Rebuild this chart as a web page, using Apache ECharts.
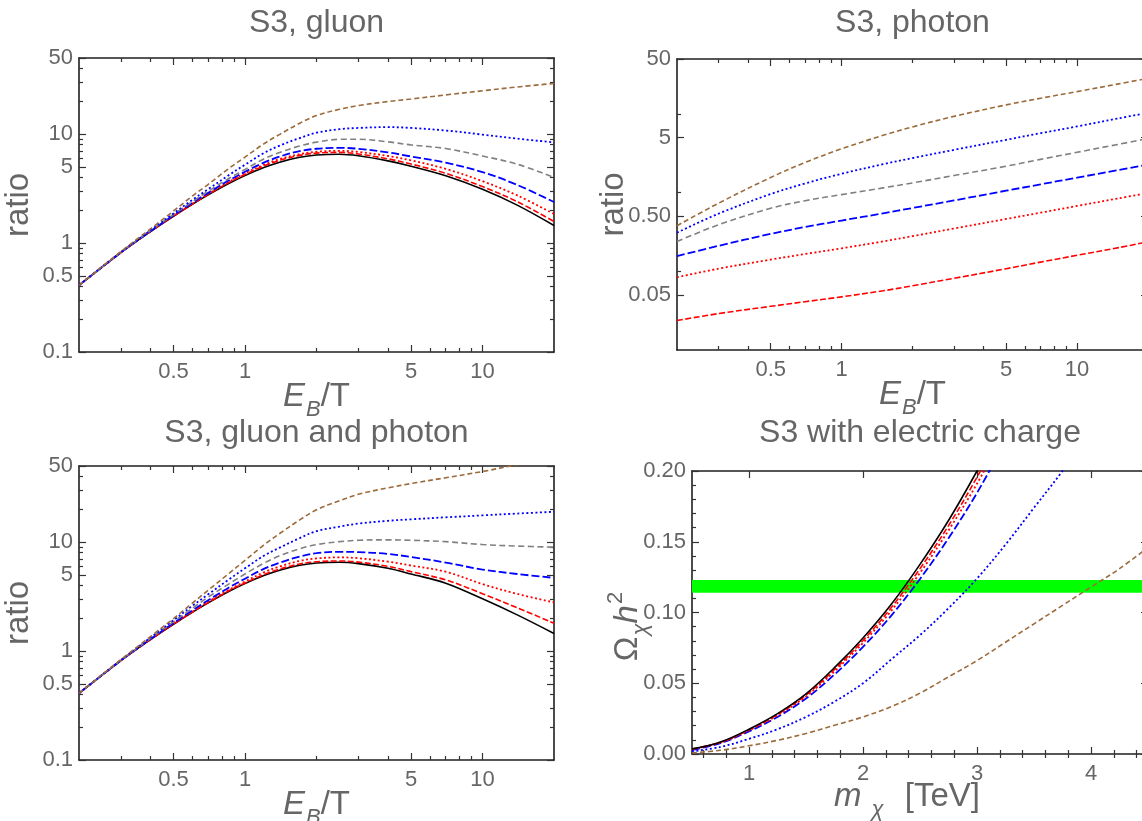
<!DOCTYPE html>
<html>
<head>
<meta charset="utf-8">
<title>S3 ratios and relic density</title>
<script src="https://cdn.jsdelivr.net/npm/echarts@6/dist/echarts.min.js"></script>
<style>
  html, body { margin: 0; padding: 0; background: #ffffff; }
  #chart { width: 1142px; height: 821px; }
</style>
</head>
<body>
<div id="chart"></div>
<script>
// ---------- data ----------
// E_B/T samples shared by the gluon and gluon+photon panels
const ebtGrid = [0.2, 0.3, 0.4, 0.5, 0.6, 0.7, 0.85, 1, 1.2, 1.4, 1.7, 2, 2.5, 3, 4, 5, 7, 10, 14, 20];

// S3, gluon
const gluonBlack    = [0.41, 0.817, 1.276, 1.763, 2.268, 2.771, 3.5, 4.16, 4.93, 5.53, 6.13, 6.44, 6.54, 6.33, 5.68, 5.08, 4.15, 3.12, 2.23, 1.45];
const gluonRedDash  = [0.41, 0.817, 1.277, 1.77, 2.28, 2.8, 3.57, 4.26, 5.1, 5.74, 6.38, 6.7, 6.8, 6.58, 5.93, 5.32, 4.37, 3.3, 2.4, 1.58];
const gluonRedDot   = [0.41, 0.817, 1.28, 1.78, 2.3, 2.83, 3.62, 4.37, 5.24, 5.9, 6.56, 6.89, 7.03, 6.86, 6.3, 5.74, 4.8, 3.7, 2.74, 1.85];
const gluonBlueDash = [0.41, 0.818, 1.285, 1.8, 2.34, 2.89, 3.73, 4.51, 5.47, 6.22, 6.99, 7.34, 7.49, 7.34, 6.8, 6.24, 5.47, 4.48, 3.42, 2.38];
const gluonGray     = [0.41, 0.82, 1.3, 1.83, 2.4, 2.99, 3.89, 4.74, 5.92, 6.8, 7.79, 8.44, 8.96, 8.97, 8.5, 7.96, 7.38, 6.3, 5.3, 4.0];
const gluonBlueDot  = [0.41, 0.825, 1.31, 1.87, 2.49, 3.13, 4.17, 5.24, 6.7, 7.85, 9.2, 10.3, 11.1, 11.4, 11.6, 11.4, 10.8, 9.9, 9.1, 8.4];
const gluonBrown    = [0.41, 0.835, 1.35, 1.97, 2.7, 3.46, 4.8, 6.15, 8.15, 9.95, 12.6, 14.8, 16.9, 18.3, 19.9, 21.0, 22.9, 25.0, 27.1, 29.2];

// S3, photon
const photonGrid     = [0.2, 0.3, 0.5, 0.7, 1, 1.5, 2, 3, 5, 7, 10, 15, 20];
const photonBrown    = [0.38, 0.733, 1.56, 2.42, 3.61, 5.35, 6.85, 9.32, 13.06, 15.87, 19.24, 24.15, 28.4];
const photonBlueDot  = [0.31, 0.54, 0.96, 1.31, 1.74, 2.3, 2.75, 3.5, 4.7, 5.7, 6.95, 8.8, 10.35];
const photonGray     = [0.24, 0.39, 0.634, 0.79, 0.945, 1.15, 1.33, 1.65, 2.17, 2.65, 3.26, 4.12, 4.87];
const photonBlueDash = [0.156, 0.211, 0.299, 0.366, 0.442, 0.546, 0.638, 0.797, 1.06, 1.276, 1.553, 1.94, 2.27];
const photonRedDot   = [0.084, 0.108, 0.141, 0.166, 0.196, 0.24, 0.28, 0.35, 0.463, 0.557, 0.678, 0.847, 0.99];
const photonRedDash  = [0.0237, 0.029, 0.0359, 0.0411, 0.0474, 0.0566, 0.0655, 0.0815, 0.108, 0.131, 0.16, 0.2, 0.237];

// S3, gluon and photon
const bothBlack    = [0.41, 0.817, 1.276, 1.763, 2.268, 2.771, 3.5, 4.16, 4.93, 5.53, 6.13, 6.44, 6.54, 6.35, 5.75, 5.1, 4.2, 3.02, 2.15, 1.45];
const bothRedDash  = [0.41, 0.817, 1.277, 1.77, 2.28, 2.79, 3.55, 4.22, 5.04, 5.67, 6.3, 6.6, 6.72, 6.56, 6.0, 5.36, 4.5, 3.36, 2.5, 1.8];
const bothRedDot   = [0.41, 0.817, 1.28, 1.78, 2.3, 2.84, 3.63, 4.35, 5.28, 5.98, 6.73, 7.08, 7.25, 7.12, 6.62, 6.1, 5.35, 4.12, 3.35, 2.8];
const bothBlueDash = [0.41, 0.818, 1.29, 1.81, 2.36, 2.93, 3.8, 4.62, 5.68, 6.48, 7.38, 7.94, 8.15, 8.1, 7.8, 7.3, 6.5, 5.6, 5.1, 4.7];
const bothGray     = [0.41, 0.82, 1.31, 1.86, 2.47, 3.13, 4.1, 5.1, 6.4, 7.5, 8.7, 9.5, 10.1, 10.4, 10.5, 10.4, 10.1, 9.5, 9.2, 9.0];
const bothBlueDot  = [0.41, 0.825, 1.33, 1.92, 2.6, 3.32, 4.5, 5.75, 7.5, 8.9, 10.9, 12.6, 13.9, 14.8, 15.7, 16.2, 16.9, 17.6, 18.3, 19.0];
const bothBrown    = [0.41, 0.835, 1.36, 1.99, 2.75, 3.62, 5.1, 6.8, 9.4, 12.0, 16.0, 19.8, 24.0, 27.5, 31.5, 34.5, 39.0, 44.5, 51.5, 60.0];

// S3 with electric charge: relic abundance vs mass (TeV)
const massGrid      = [0.5, 0.75, 1, 1.25, 1.5, 1.75, 2, 2.25, 2.5, 2.75, 3, 3.25, 3.5, 3.75, 4, 4.25, 4.5];
const omegaBlack    = [0.0036, 0.0085, 0.0175, 0.0285, 0.0425, 0.061, 0.082, 0.106, 0.134, 0.165, 0.200, 0.238];
const omegaRedDash  = [0.0035, 0.0083, 0.0171, 0.0279, 0.0416, 0.0597, 0.0802, 0.1037, 0.131, 0.1614, 0.1956, 0.233];
const omegaRedDot   = [0.0034, 0.0081, 0.0167, 0.0273, 0.0407, 0.0584, 0.0785, 0.1014, 0.128, 0.158, 0.191, 0.228];
const omegaBlueDash = [0.0029, 0.0077, 0.016, 0.0262, 0.0392, 0.0562, 0.0757, 0.098, 0.1237, 0.1525, 0.1845, 0.221];
const omegaBlueDot  = [0.0019, 0.005, 0.0107, 0.0175, 0.0262, 0.037, 0.05, 0.067, 0.084, 0.103, 0.124, 0.148, 0.174, 0.2, 0.228];
const omegaBrown    = [0.0008, 0.0026, 0.0058, 0.0097, 0.0145, 0.0203, 0.0262, 0.0335, 0.043, 0.0545, 0.066, 0.079, 0.092, 0.105, 0.118, 0.131, 0.146];
const relicBand     = [0.114, 0.123];

// tick values and labels
const ebtMajor        = [0.5, 1, 5, 10];
const ebtLabels       = ['0.5', '1', '5', '10'];
const ebtMinor        = [0.3, 0.4, 0.6, 0.7, 0.8, 0.9, 2, 3, 4, 6, 7, 8, 9];
const ratioMajor      = [0.1, 0.5, 1, 5, 10, 50];
const ratioLabels     = ['0.1', '0.5', '1', '5', '10', '50'];
const ratioMinor      = [0.2, 0.3, 0.4, 0.6, 0.7, 0.8, 0.9, 2, 3, 4, 6, 7, 8, 9, 20, 30, 40];
const photonMajor     = [0.05, 0.5, 5, 50];
const photonLabels    = ['0.05', '0.50', '5', '50'];
const photonMinor     = [0.1, 1, 10];
const massMajor       = [1, 2, 3, 4];
const massLabels      = ['1', '2', '3', '4'];
const massMinor       = [0.6, 0.8, 1.2, 1.4, 1.6, 1.8, 2.2, 2.4, 2.6, 2.8, 3.2, 3.4, 3.6, 3.8, 4.2, 4.4];
const omegaMajor      = [0, 0.05, 0.1, 0.15, 0.2];
const omegaLabels     = ['0.00', '0.05', '0.10', '0.15', '0.20'];
const omegaMinor      = [0.01, 0.02, 0.03, 0.04, 0.06, 0.07, 0.08, 0.09, 0.11, 0.12, 0.13, 0.14, 0.16, 0.17, 0.18, 0.19];

// ---------- styling ----------
const FONT = '"Liberation Sans", Arial, sans-serif';
const TEXT = '#666666';
const FRAME = '#1f1f1f';
const TICK = '#333333';

const lineStyles = {
  black:    { color: '#000000', type: 'solid',  width: 1.6 },
  redDash:  { color: '#ff0000', type: [6, 2.5], width: 1.6 },
  redDot:   { color: '#ff0000', type: [2, 2.5], width: 1.8 },
  blueDash: { color: '#0000ff', type: [8, 3],   width: 1.8 },
  gray:     { color: '#808080', type: [6, 3.5], width: 1.6 },
  blueDot:  { color: '#0000ff', type: [2, 2.5], width: 1.8 },
  brown:    { color: '#9c6b3c', type: [5, 3],   width: 1.6 }
};

const grids = [
  { left: 79,  top: 58,  width: 475, height: 294 },
  { left: 677, top: 59,  width: 471, height: 291 },
  { left: 79,  top: 466, width: 475, height: 294 },
  { left: 692, top: 471, width: 456, height: 283 }
].map(g => Object.assign({ outerBoundsMode: 'none', containLabel: false, show: false }, g));

const RICH = {
  it:   { fontStyle: 'italic', fontSize: 33, lineHeight: 33, verticalAlign: 'top', padding: [6, 0, 0, 0] },
  up:   { fontSize: 33, lineHeight: 33, verticalAlign: 'top', padding: [6, 0, 0, 0] },
  sub:  { fontStyle: 'italic', fontSize: 22, lineHeight: 22, verticalAlign: 'top', padding: [25, 0, 0, 1] },
  subw: { fontStyle: 'italic', fontSize: 22, lineHeight: 22, verticalAlign: 'top', padding: [25, 3, 0, 10] },
  sup:  { fontSize: 22, lineHeight: 22, verticalAlign: 'top', padding: [0, 0, 0, 1] }
};

const xAxes = [];
const yAxes = [];
const series = [];

function labelFormatter(values, labels) {
  return function (v) {
    for (let i = 0; i < values.length; i++) {
      const ref = values[i];
      if (Math.abs(v - ref) <= 1e-6 * Math.max(Math.abs(ref), 1e-3)) return labels[i];
    }
    return '';
  };
}

// One framed side pair (bottom/top or left/right), each with major and minor inward ticks.
function frame(dim, gi, scale, ticks, nameOpt) {
  const list = dim === 'x' ? xAxes : yAxes;
  const sides = dim === 'x' ? ['bottom', 'top'] : ['left', 'right'];
  let main = -1;
  sides.forEach((pos, k) => {
    const base = {
      gridIndex: gi, position: pos, type: scale.type, min: scale.min, max: scale.max,
      splitLine: { show: false }, splitArea: { show: false }, minorTick: { show: false },
      silent: true, axisPointer: { show: false }, offset: 0
    };
    if (scale.type === 'log') base.logBase = 10;
    const major = Object.assign({}, base, {
      axisLine: { show: true, onZero: false, lineStyle: { color: FRAME, width: 1.6 } },
      axisTick: { show: true, inside: true, length: 7, customValues: ticks.major, lineStyle: { color: TICK, width: 1.2 } },
      axisLabel: k === 0 ? {
        show: true, customValues: ticks.major, formatter: labelFormatter(ticks.major, ticks.labels),
        color: TEXT, fontSize: 22, fontFamily: FONT, margin: dim === 'x' ? 9 : 6,
        showMinLabel: true, showMaxLabel: true, hideOverlap: false
      } : { show: false }
    });
    if (k === 0 && nameOpt) Object.assign(major, nameOpt);
    list.push(major);
    if (k === 0) main = list.length - 1;
    list.push(Object.assign({}, base, {
      axisLine: { show: false },
      axisTick: { show: true, inside: true, length: 4, customValues: ticks.minor, lineStyle: { color: TICK, width: 1.2 } },
      axisLabel: { show: false }
    }));
  });
  return main;
}

function axisName(text, gap, pad) {
  return {
    name: text, nameLocation: 'middle', nameGap: gap, nameMoveOverlap: false,
    nameTextStyle: { color: TEXT, fontFamily: FONT, fontSize: 33, rich: RICH, padding: pad || 0 }
  };
}

function curve(xs, ys, style, xi, yi) {
  return {
    type: 'line', xAxisIndex: xi, yAxisIndex: yi,
    data: ys.map((y, i) => [xs[i], y]),
    showSymbol: false, symbol: 'none', smooth: 0.35, clip: true,
    lineStyle: Object.assign({ cap: 'butt' }, style),
    silent: true, animation: false, z: 3
  };
}

const ebtName = '{it|E}{sub|B}{up|/T}';
const ratioScale = { type: 'log', min: 0.1, max: 50 };
const ebtScale = { type: 'log', min: 0.2, max: 20 };

// panel 0: gluon
{
  const xi = frame('x', 0, ebtScale, { major: ebtMajor, labels: ebtLabels, minor: ebtMinor }, axisName(ebtName, 22));
  const yi = frame('y', 0, ratioScale, { major: ratioMajor, labels: ratioLabels, minor: ratioMinor }, axisName('ratio', 44));
  [[gluonBlack, 'black'], [gluonRedDash, 'redDash'], [gluonRedDot, 'redDot'], [gluonBlueDash, 'blueDash'],
   [gluonGray, 'gray'], [gluonBlueDot, 'blueDot'], [gluonBrown, 'brown']]
    .forEach(([ys, s]) => series.push(curve(ebtGrid, ys, lineStyles[s], xi, yi)));
}
// panel 1: photon
{
  const xi = frame('x', 1, ebtScale, { major: ebtMajor, labels: ebtLabels, minor: ebtMinor }, axisName(ebtName, 22));
  const yi = frame('y', 1, { type: 'log', min: 0.01, max: 50 }, { major: photonMajor, labels: photonLabels, minor: photonMinor }, axisName('ratio', 47));
  [[photonRedDash, 'redDash'], [photonRedDot, 'redDot'], [photonBlueDash, 'blueDash'],
   [photonGray, 'gray'], [photonBlueDot, 'blueDot'], [photonBrown, 'brown']]
    .forEach(([ys, s]) => series.push(curve(photonGrid, ys, lineStyles[s], xi, yi)));
}
// panel 2: gluon and photon
{
  const xi = frame('x', 2, ebtScale, { major: ebtMajor, labels: ebtLabels, minor: ebtMinor }, axisName(ebtName, 22));
  const yi = frame('y', 2, ratioScale, { major: ratioMajor, labels: ratioLabels, minor: ratioMinor }, axisName('ratio', 44));
  [[bothBlack, 'black'], [bothRedDash, 'redDash'], [bothRedDot, 'redDot'], [bothBlueDash, 'blueDash'],
   [bothGray, 'gray'], [bothBlueDot, 'blueDot'], [bothBrown, 'brown']]
    .forEach(([ys, s]) => series.push(curve(ebtGrid, ys, lineStyles[s], xi, yi)));
}
// panel 3: relic abundance
{
  const xi = frame('x', 3, { type: 'value', min: 0.5, max: 4.5 }, { major: massMajor, labels: massLabels, minor: massMinor },
    axisName('{it|m}{subw|χ}{up|  [TeV]}', 20, [0, 26, 0, 0]));
  const yi = frame('y', 3, { type: 'value', min: 0, max: 0.2 }, { major: omegaMajor, labels: omegaLabels, minor: omegaMinor },
    axisName('{up|Ω}{sub|χ}{it|h}{sup|2}', 54, [0, 28, 0, 0]));
  series.push({
    type: 'line', xAxisIndex: xi, yAxisIndex: yi, data: [], silent: true, animation: false, z: 1,
    markArea: {
      silent: true, itemStyle: { color: '#00ff00', opacity: 1, borderWidth: 0 },
      data: [[{ yAxis: relicBand[0] }, { yAxis: relicBand[1] }]]
    }
  });
  [[omegaBrown, 'brown'], [omegaBlueDot, 'blueDot'], [omegaBlueDash, 'blueDash'],
   [omegaRedDot, 'redDot'], [omegaRedDash, 'redDash'], [omegaBlack, 'black']]
    .forEach(([ys, s]) => series.push(curve(massGrid, ys, lineStyles[s], xi, yi)));
}

const titleStyle = { color: TEXT, fontFamily: FONT, fontSize: 32, fontWeight: 'normal' };
const titles = [
  { text: 'S3, gluon', left: 316.5, top: 7 },
  { text: 'S3, photon', left: 912.5, top: 7 },
  { text: 'S3, gluon and photon', left: 316.5, top: 417 },
  { text: 'S3 with electric charge', left: 920, top: 417 }
].map(t => Object.assign({ textAlign: 'center', textStyle: titleStyle, padding: 0 }, t));

const chart = echarts.init(document.getElementById('chart'), null, { renderer: 'canvas', width: 1142, height: 821 });
chart.setOption({
  backgroundColor: '#ffffff',
  animation: false,
  title: titles,
  grid: grids,
  xAxis: xAxes,
  yAxis: yAxes,
  series: series
});
</script>
</body>
</html>
